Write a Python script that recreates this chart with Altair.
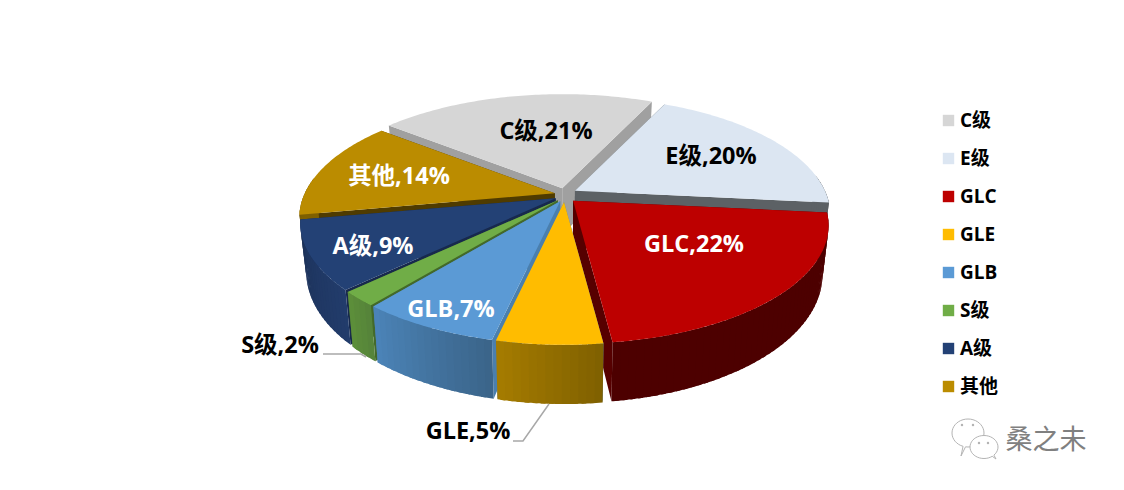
import math
import altair as alt
import pandas as pd

# ---- data ----
names = ["C级", "E级", "GLC", "GLE", "GLB", "S级", "A级", "其他"]
shares = [21.3, 19.6, 21.4, 5.5, 7.3, 2.0, 9.3, 13.6]         # slice sizes, estimated from the drawn angles
shown_pct = [21, 20, 22, 5, 7, 2, 9, 14]                      # percentages printed on the chart
top_colors = ["#d6d6d6", "#dce6f2", "#bd0000", "#ffbc00", "#5b9ad5", "#70ad47", "#234175", "#bb8c00"]
wall_colors = ["#a0a0a0", "#5c6165", "#560000", "#4a7fae", "#4a7fae", "#43692a", "#17294d", "#4f3b00"]
rim_left = ["#8c8c8c", "#5c6165", "#4d0000", "#a67c00", "#4c84b8", "#5d8f3a", "#1c3158", "#7f6000"]
rim_right = ["#8c8c8c", "#5c6165", "#4d0000", "#7f6000", "#3a6489", "#55833a", "#223c6b", "#7f6000"]
paint_order = ["C级", "其他", "A级", "S级", "GLB", "E级", "GLC", "GLE"]
label_text_colors = ["#000000", "#000000", "#ffffff", "#000000", "#ffffff", "#000000", "#ffffff", "#ffffff"]

# ---- layout of the tilted pie, in page pixels ----
OX, OY = 8, 8
CX, CY = 564.5, 195.0
RX, RY, PERSP = 250.0, 113.4, 0.206
DEPTH, BOTTOM_K = 47.0, 0.977
EXPLODE_X, EXPLODE_Y = 10.0, 7.0
explode_factor = [1.0, 1.2, 1.2, 1.0, 1.0, 1.0, 1.0, 1.0]
START_DEG = -141.5
label_x = [546, 711, 694, 0, 451, 0, 373, 399]
label_y = [132, 157, 245, 0, 310, 0, 247, 177]
outer_x = {"S级": 280, "GLE": 468}
outer_y = {"S级": 346, "GLE": 432}


def mix(c1, c2, t):
    a = [int(c1[i:i + 2], 16) for i in (1, 3, 5)]
    b = [int(c2[i:i + 2], 16) for i in (1, 3, 5)]
    return "#" + "".join(f"{round(u + (v - u) * t):02x}" for u, v in zip(a, b))


def rim(apex, deg):
    s, c = math.sin(math.radians(deg)), math.cos(math.radians(deg))
    d = 1 - PERSP * s
    return (apex[0] + RX * c / d, apex[1] + RY * s / d, DEPTH / d)


def lower(p):
    return (CX + BOTTOM_K * (p[0] - CX), p[1] + p[2])


def feature(pts, fill):
    ring = [[round(x - OX, 2), round(y - OY, 2)] for x, y in pts]
    ring.append(ring[0])
    return {"type": "Feature", "geometry": {"type": "Polygon", "coordinates": [ring]},
            "properties": {"fill": fill}}


# Slice angles come from the shares
spans = {}
angle = START_DEG
for n, v in zip(names, shares):
    spans[n] = (angle, angle + v * 3.6)
    angle += v * 3.6

features = []
for n in paint_order:
    i = names.index(n)
    a0, a1 = spans[n]
    mid = math.radians((a0 + a1) / 2)
    apex = (CX + EXPLODE_X * explode_factor[i] * math.cos(mid),
            CY + EXPLODE_Y * explode_factor[i] * math.sin(mid))
    apex3 = (apex[0], apex[1], DEPTH)
    # cut walls
    for a in (a0, a1):
        r = rim(apex, a)
        features.append(feature([apex[:2], r[:2], lower(r), lower(apex3)], wall_colors[i]))
    # curved outer wall, front part only, as overlapping shaded strips
    lo = max(a0, -8.0) if a1 < 180 else a0
    hi = a1
    if n == "其他":
        lo, hi = a0, min(a1, 188.0)
    if hi > lo:
        steps = max(2, int((hi - lo) / 1.5))
        for k in range(steps):
            t0 = lo + (hi - lo) * k / steps
            t1 = lo + (hi - lo) * min(k + 1.6, steps) / steps
            # angle grows from right to left along the near side
            col = mix(rim_right[i], rim_left[i], (k + .5) / steps)
            mids = [rim(apex, t0 + (t1 - t0) * q / 4) for q in range(5)]
            features.append(feature([m[:2] for m in mids] + [lower(m) for m in reversed(mids)], col))
    # top face
    arc = [rim(apex, a0 + (a1 - a0) * k / 80)[:2] for k in range(81)]
    features.append(feature([apex[:2]] + arc, top_colors[i]))

identity = dict(type="identity", scale=1, translate=[0, 0])

pie = alt.Chart(alt.Data(values=features)).mark_geoshape(strokeWidth=0, opacity=1).encode(
    fill=alt.Fill("properties.fill:N", scale=None, legend=None),
).properties(projection=identity)

# Leader lines
leaders = pd.DataFrame({
    "x": [323, 361, 366, 513, 523, 549],
    "y": [354, 354, 357, 441, 441, 404],
    "g": ["S", "S", "S", "G", "G", "G"],
    "o": [0, 1, 2, 0, 1, 2],
})
leader = alt.Chart(leaders).mark_line(color="#a8a8a8", strokeWidth=1.5).encode(
    x=alt.X("px:Q", scale=None, axis=None),
    y=alt.Y("py:Q", scale=None, axis=None),
    detail="g:N", order="o:Q",
).transform_calculate(px=f"datum.x-{OX}", py=f"datum.y-{OY}")

# Data labels
rows = []
for i, (n, v) in enumerate(zip(names, shown_pct)):
    x = outer_x.get(n, label_x[i])
    y = outer_y.get(n, label_y[i])
    rows.append({"t": f"{n},{v}%", "x": x - OX, "y": y - OY, "c": label_text_colors[i]})
LABEL_FONT = "Open Sans, Noto Sans CJK SC"
labels = alt.Chart(pd.DataFrame(rows)).mark_text(
    font=LABEL_FONT, fontSize=23.5, fontWeight="bold", align="center", baseline="middle"
).encode(
    x=alt.X("x:Q", scale=None, axis=None),
    y=alt.Y("y:Q", scale=None, axis=None),
    text="t:N",
    fill=alt.Fill("c:N", scale=None, legend=None),
)

# Legend
legend_df = pd.DataFrame({"name": names})
legend = alt.Chart(legend_df).mark_square(opacity=0, size=10).encode(
    color=alt.Color("name:N", sort=names,
                    scale=alt.Scale(domain=names, range=top_colors),
                    legend=alt.Legend(
                        title=None, orient="none", legendX=939 - OX, legendY=111 - OY,
                        symbolType="square", symbolSize=130, symbolOpacity=1, symbolStrokeWidth=0,
                        labelFont=LABEL_FONT, labelFontSize=19, labelFontWeight="bold",
                        labelColor="#000000", rowPadding=18, labelOffset=2)),
)


# WeChat-style watermark
def bubble(cx, cy, rx, ry, tail):
    pts = []
    for k in range(40):
        a = 2 * math.pi * k / 40
        pts.append((cx + rx * math.cos(a), cy + ry * math.sin(a)))
    pts.insert(int(tail[0] * 40), tail[1])
    return pts


marks = [
    feature(bubble(968, 433, 16, 14, (0.3, (961, 456))), "#ffffff"),
    feature(bubble(984, 447, 14, 11.5, (0.15, (996, 459))), "#ffffff"),
]
icon = alt.Chart(alt.Data(values=marks)).mark_geoshape(
    fill="white", stroke="#b4b4b4", strokeWidth=1, opacity=1).properties(projection=identity)
eye_df = pd.DataFrame({"x": [962, 973, 979, 988], "y": [425, 425, 443, 443]})
eyes = alt.Chart(eye_df).mark_circle(size=6, color="#b4b4b4", opacity=1).encode(
    x=alt.X("px:Q", scale=None, axis=None),
    y=alt.Y("py:Q", scale=None, axis=None),
).transform_calculate(px=f"datum.x-{OX}", py=f"datum.y-{OY}")
mark_text = alt.Chart(pd.DataFrame({"t": ["桑之未"], "x": [1046 - OX], "y": [441 - OY]})).mark_text(
    font="Noto Sans CJK SC", fontSize=27, color="#808080", align="center", baseline="middle"
).encode(x=alt.X("x:Q", scale=None, axis=None), y=alt.Y("y:Q", scale=None, axis=None), text="t:N")

chart = alt.layer(pie, leader, labels, legend, icon, eyes, mark_text).properties(
    width=1108, height=474, padding=0,
    autosize=alt.AutoSizeParams(type="none"),
    background="white",
).configure_view(stroke=None)

chart.save("out.html", embed_options={"renderer": "svg", "actions": False})
